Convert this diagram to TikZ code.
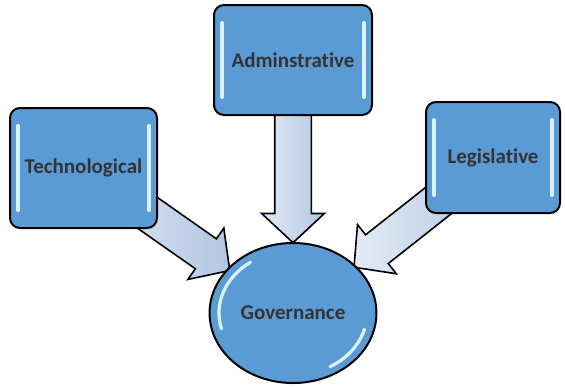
\documentclass[tikz,border=0pt]{standalone}
\usepackage{fontspec}
\setmainfont[Ligatures=NoCommon]{Carlito}
\usetikzlibrary{shapes.geometric, shapes.arrows, calc, backgrounds}

\definecolor{boxblue}{HTML}{5B9BD5}
\definecolor{labelgray}{HTML}{333333}
\definecolor{arrowlight}{HTML}{E3EBF6}
\definecolor{arrowdark}{HTML}{B2C5E2}
\definecolor{glint}{HTML}{D8F3FF}

% block arrow from one node to another
\newcommand{\feedarrow}[2]{%
  \path let \p1=(#1), \p2=(#2),
    \n1={atan2(\y2-\y1,\x2-\x1)}, \n2={veclen(\x2-\x1,\y2-\y1)} in
    node[blockarrow, minimum height=\n2, rotate=\n1] at ($(#1)!0.5!(#2)$) {};}

\begin{document}
\begin{tikzpicture}[
    x=0.5pt, y=-0.5pt,
    field/.style={draw, line width=1pt, rounded corners=5pt, fill=boxblue,
                  font=\fontsize{10.5}{12}\selectfont\bfseries, text=labelgray,
                  path picture={
                    \draw[glint, line width=2pt, line cap=round]
                      ([xshift=4pt, yshift=-9pt]path picture bounding box.north west) --
                      ([xshift=4pt, yshift=9pt]path picture bounding box.south west);
                    \draw[glint, line width=2pt, line cap=round]
                      ([xshift=-4pt, yshift=-9pt]path picture bounding box.north east) --
                      ([xshift=-4pt, yshift=9pt]path picture bounding box.south east);}},
    hub/.style={ellipse, draw, line width=1pt, fill=boxblue,
                font=\fontsize{10.5}{12}\selectfont\bfseries, text=labelgray,
                minimum width=81pt, minimum height=70pt,
                path picture={
                  \draw[glint, line width=1.6pt, line cap=round]
                    (path picture bounding box.center) ++(125:37pt and 31pt)
                    arc[start angle=125, end angle=195, x radius=37pt, y radius=31pt];
                  \draw[glint, line width=1.6pt, line cap=round]
                    (path picture bounding box.center) ++(-15:37pt and 31pt)
                    arc[start angle=-15, end angle=-60, x radius=37pt, y radius=31pt];}},
    blockarrow/.style={single arrow, draw, line width=0.8pt,
                       inner xsep=0pt, inner ysep=8.75pt,
                       single arrow head extend=6.5pt, single arrow tip angle=94,
                       left color=arrowlight, right color=arrowdark},
  ]
  \useasboundingbox (0,0) rectangle (565,386);

  % --- the three inputs and the hub ---
  \node[field, minimum width=73.5pt, minimum height=60pt] (tech) at (83.5,168) {Technological};
  \node[field, minimum width=79pt, minimum height=55pt] (admin) at (293,60) {Adminstrative};
  \node[field, minimum width=67pt, minimum height=55.5pt] (legis) at (493,157.5) {Legislative};
  \node[hub] (gov) at (293,313) {Governance};

  % --- arrow tips just outside the hub ---
  \coordinate (techtip) at ($(gov.center)!1.065!(gov.146)$);
  \coordinate (admintip) at ($(gov.center)!1.11!(gov.north)$);
  \coordinate (legistip) at ($(gov.center)!1.074!(gov.37)$);

  \begin{scope}[on background layer]
    \feedarrow{tech}{techtip}
    \feedarrow{admin}{admintip}
    \feedarrow{legis}{legistip}
  \end{scope}
\end{tikzpicture}
\end{document}
